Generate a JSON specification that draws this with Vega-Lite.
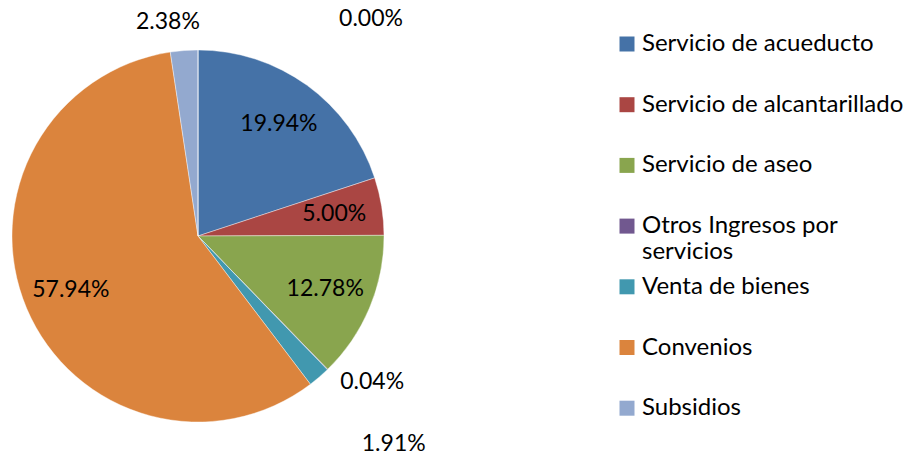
{
  "$schema": "https://vega.github.io/schema/vega-lite/v6.json",
  "width": 396,
  "height": 438,
  "padding": {"top": 17, "left": 0, "right": 522, "bottom": 0},
  "autosize": {"type": "none"},
  "background": "white",
  "config": {"view": {"stroke": null}, "font": "Lato"},
  "data": {
    "values": [
      {"category": "Servicio de acueducto", "value": 19.94, "label": "19.94%", "order": 1},
      {"category": "Servicio de alcantarillado", "value": 5.00, "label": "5.00%", "order": 2},
      {"category": "Servicio de aseo", "value": 12.78, "label": "12.78%", "order": 3},
      {"category": "Otros Ingresos por servicios", "value": 0.04, "label": "0.04%", "order": 4},
      {"category": "Venta de bienes", "value": 1.91, "label": "1.91%", "order": 5},
      {"category": "Convenios", "value": 57.94, "label": "57.94%", "order": 6},
      {"category": "Subsidios", "value": 2.38, "label": "2.38%", "order": 7},
      {"category": "Otros", "value": 0.0, "label": "0.00%", "order": 8}
    ]
  },
  "encoding": {
    "theta": {"field": "value", "type": "quantitative", "stack": true},
    "order": {"field": "order", "type": "quantitative"}
  },
  "layer": [
    {
      "mark": {"type": "arc", "outerRadius": 186, "stroke": "white", "strokeWidth": 0.4},
      "encoding": {
        "color": {
          "field": "category",
          "type": "nominal",
          "sort": null,
          "scale": {
            "domain": ["Servicio de acueducto", "Servicio de alcantarillado", "Servicio de aseo", "Otros Ingresos por servicios", "Venta de bienes", "Convenios", "Subsidios", "Otros"],
            "range": ["#4572A7", "#AA4643", "#89A54E", "#71588F", "#4198AF", "#DB843D", "#93A9CF", "#D19392"]
          },
          "legend": {
            "values": ["Servicio de acueducto", "Servicio de alcantarillado", "Servicio de aseo", "Otros Ingresos por servicios", "Venta de bienes", "Convenios", "Subsidios"],
            "title": null,
            "orient": "none",
            "legendX": 615,
            "legendY": 15,
            "symbolType": "square",
            "symbolSize": 225,
            "symbolStrokeWidth": 0,
            "labelFont": "Lato",
            "labelFontSize": 24,
            "labelColor": "#000000",
            "labelOffset": 3,
            "labelLimit": 400,
            "rowPadding": 10.7,
            "padding": 0,
            "labelExpr": "datum.label == 'Otros Ingresos por servicios' ? ['Otros Ingresos por', 'servicios'] : [datum.label, ' ']"
          }
        }
      }
    },
    {
      "mark": {"type": "text", "radius": 138, "fontSize": 23, "font": "Lato", "color": "#000000"},
      "encoding": {
        "text": {"condition": {"test": "datum.value >= 5", "field": "label"}, "value": ""}
      }
    },
    {
      "mark": {"type": "text", "radius": 230, "dx": 14, "dy": -19, "fontSize": 23, "font": "Lato", "color": "#000000"},
      "encoding": {
        "text": {"condition": {"test": "datum.label == '0.04%'", "field": "label"}, "value": ""}
      }
    },
    {
      "mark": {"type": "text", "radius": 230, "dx": 46, "dy": 33, "fontSize": 23, "font": "Lato", "color": "#000000"},
      "encoding": {
        "text": {"condition": {"test": "datum.label == '1.91%'", "field": "label"}, "value": ""}
      }
    },
    {
      "mark": {"type": "text", "radius": 215, "dx": -14, "dy": 0, "fontSize": 23, "font": "Lato", "color": "#000000"},
      "encoding": {
        "text": {"condition": {"test": "datum.label == '2.38%'", "field": "label"}, "value": ""}
      }
    },
    {
      "mark": {"type": "text", "radius": 215, "dx": 173, "dy": -2, "fontSize": 23, "font": "Lato", "color": "#000000"},
      "encoding": {
        "text": {"condition": {"test": "datum.label == '0.00%'", "field": "label"}, "value": ""}
      }
    }
  ]
}
